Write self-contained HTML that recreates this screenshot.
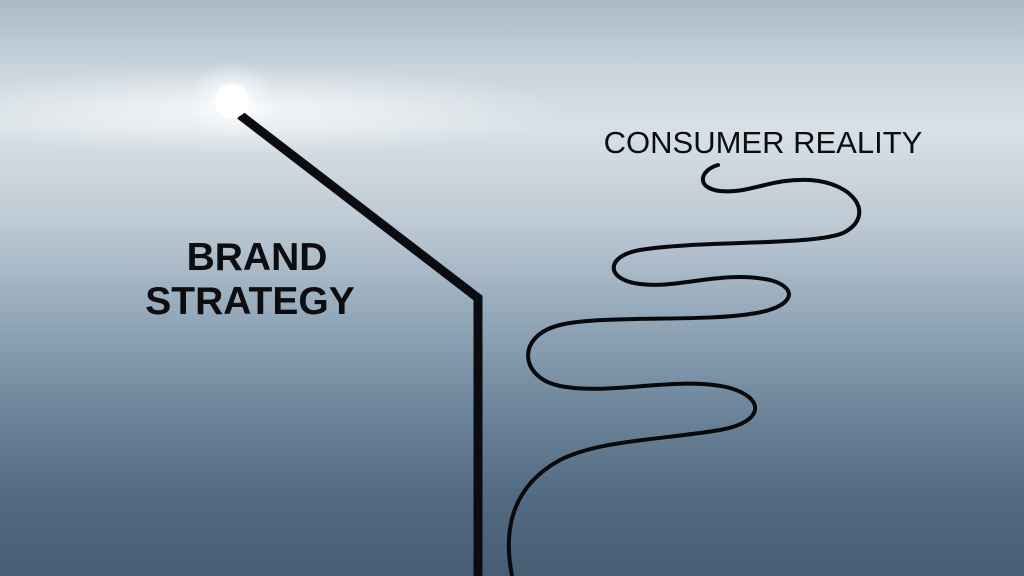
<!DOCTYPE html>
<html><head><style>
html,body{margin:0;padding:0;width:1024px;height:576px;overflow:hidden}
body{background:linear-gradient(180deg,#aab9c6 0%,#c9d4dc 12%,#d8e1e7 22%,#bfcbd5 38%,#93a8b9 55%,#6b8499 72%,#536b82 86%,#465d74 100%);position:relative}
</style></head><body>
<svg width="1024" height="576" style="position:absolute;left:0;top:0">
<defs>
<radialGradient id="g" cx="0.5" cy="0.5" r="0.5">
<stop offset="0" stop-color="#fff" stop-opacity="0.75"/>
<stop offset="1" stop-color="#fff" stop-opacity="0"/>
</radialGradient>
<radialGradient id="g2" cx="0.5" cy="0.5" r="0.5">
<stop offset="0" stop-color="#fff" stop-opacity="0.9"/>
<stop offset="1" stop-color="#fff" stop-opacity="0"/>
</radialGradient>
</defs>
<ellipse cx="240" cy="110" rx="330" ry="45" fill="url(#g)"/>
<ellipse cx="232" cy="100" rx="45" ry="38" fill="url(#g2)"/>
<polyline points="240,115 478,298 478,576" fill="none" stroke="#0a0c10" stroke-width="9" stroke-linejoin="miter"/>
<circle cx="232" cy="101" r="17" fill="#fff"/>
<path d="M718,165 C700,170 695,188 720,191 C750,194 770,178 810,180 C855,183 875,215 845,232 C820,246 700,240 640,250 C605,256 605,280 640,284 C680,289 720,270 770,280 C800,288 795,308 750,314 C700,322 600,315 560,325 C515,336 520,378 560,386 C610,396 680,375 730,388 C765,398 765,422 720,430 C660,440 600,440 560,460 C505,490 505,540 512,576" fill="none" stroke="#07090c" stroke-width="4" stroke-linecap="round"/>
<text x="257" y="270" text-anchor="middle" font-family="Liberation Sans, sans-serif" font-weight="bold" font-size="39" fill="#0b0d10">BRAND</text>
<text x="250" y="314" text-anchor="middle" font-family="Liberation Sans, sans-serif" font-weight="bold" font-size="39" fill="#0b0d10">STRATEGY</text>
<text x="763" y="153" text-anchor="middle" font-family="Liberation Sans, sans-serif" font-size="31" fill="#0b0d10">CONSUMER REALITY</text>
</svg>
</body></html>
